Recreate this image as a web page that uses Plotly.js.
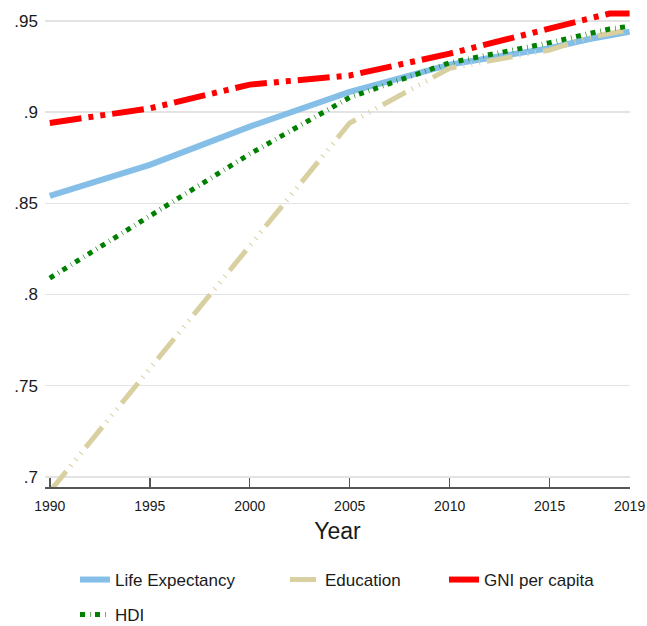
<!DOCTYPE html>
<html>
<head>
<meta charset="utf-8">
<script src="https://cdn.plot.ly/plotly-3.0.1.min.js"></script>
<style>
html,body{margin:0;padding:0;background:#fff;}
#chart{width:647px;height:626px;}
</style>
</head>
<body>
<div id="chart"></div>
<script>
const years = [1990, 1995, 2000, 2005, 2010, 2015, 2017, 2018, 2019];
const lifeExpectancy = [0.854, 0.871, 0.892, 0.911, 0.926, 0.935, 0.940, 0.942, 0.944];
const education      = [0.692, 0.759, 0.826, 0.894, 0.924, 0.934, 0.941, 0.943, 0.945];
const gniPerCapita   = [0.894, 0.902, 0.915, 0.920, 0.932, 0.946, 0.951, 0.954, 0.954];
const hdi            = [0.809, 0.843, 0.877, 0.908, 0.927, 0.938, 0.943, 0.9455, 0.947];
const xTickVals = [1990, 1995, 2000, 2005, 2010, 2015, 2019];
const xTickText = ["1990", "1995", "2000", "2005", "2010", "2015", "2019"];
const yTickVals = [0.7, 0.75, 0.8, 0.85, 0.9, 0.95];
const yTickText = [".7", ".75", ".8", ".85", ".9", ".95"];

const font = "Liberation Sans, Arial, sans-serif";

const traces = [
  {x: years, y: lifeExpectancy, name: "Life Expectancy", mode: "lines", legend: "legend", showlegend: true,
   line: {color: "#85BFE8", width: 6}},
  {x: years, y: education, name: "Education", mode: "lines", legend: "legend2", showlegend: true,
   line: {color: "#D8D0A0", width: 5, dash: "26px,7px,1px,7px,1px,7px,1px,7px"}},
  {x: years, y: gniPerCapita, name: "GNI per capita", mode: "lines", legend: "legend3", showlegend: true,
   line: {color: "#FF0000", width: 6, dash: "32px,7px,5px,7px,5px,7px"}},
  {x: years, y: hdi, name: "HDI", mode: "lines", legend: "legend4", showlegend: true,
   line: {color: "#008000", width: 5, dash: "5px,5px,0.6px,4.4px"}}
];

function leg(xpx, ypx){
  return {xref: "container", yref: "container", x: xpx/647, y: 1 - ypx/626,
          xanchor: "left", yanchor: "middle", orientation: "h",
          font: {family: font, size: 17, color: "#1a1a1a"}, bgcolor: "rgba(0,0,0,0)",
          borderwidth: 0};
}

const layout = {
  width: 647, height: 626,
  showlegend: true,
  paper_bgcolor: "#ffffff", plot_bgcolor: "#ffffff",
  margin: {l: 45, r: 17, t: 10, b: 139},
  font: {family: font, color: "#1a1a1a"},
  xaxis: {
    range: [1989.76, 2019.02], tickvals: xTickVals, ticktext: xTickText,
    ticks: "inside", ticklen: 9, tickwidth: 1.5, tickcolor: "#555",
    showline: true, linecolor: "#555", linewidth: 1.5,
    showgrid: false, zeroline: false,
    ticklabeloverflow: "allow", ticklabelstandoff: 6,
    tickfont: {family: font, size: 14, color: "#1a1a1a"},
    title: {text: "Year", font: {family: font, size: 23, color: "#1a1a1a"}, standoff: 9}
  },
  yaxis: {
    range: [0.6945, 0.9559], tickvals: yTickVals, ticktext: yTickText,
    ticks: "", showline: false, zeroline: false,
    showgrid: true, gridcolor: "#e3e3e3", gridwidth: 1.5,
    tickfont: {family: font, size: 17, color: "#1a1a1a"},
    ticklabelstandoff: 6
  },
  legend: leg(75, 580),
  legend2: leg(285, 580),
  legend3: leg(444, 580),
  legend4: leg(75, 615)
};

Plotly.newPlot("chart", traces, layout, {displayModeBar: false, staticPlot: true});
</script>
</body>
</html>
